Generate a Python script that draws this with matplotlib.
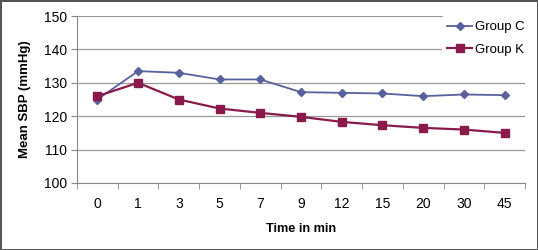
import numpy as np
import matplotlib.pyplot as plt

# time points (min) and mean SBP per group
times = ["0", "1", "3", "5", "7", "9", "12", "15", "20", "30", "45"]
group_c = [125.0, 133.5, 133.0, 131.0, 131.0, 127.2, 127.0, 126.8, 126.0, 126.5, 126.3]
group_k = [126.0, 130.0, 125.0, 122.3, 121.0, 119.8, 118.3, 117.3, 116.5, 116.0, 115.0]

plt.rcParams['font.family'] = ['Liberation Sans', 'DejaVu Sans']

fig = plt.figure(figsize=(5.38, 2.5), dpi=100)
fig.patch.set_edgecolor("#555555")
fig.patch.set_linewidth(2)
ax = fig.add_axes([0.143, 0.268, 0.833, 0.668])

x = np.arange(len(times))
ax.plot(x, group_c, color="#59609E", marker="D", markersize=4.5, linewidth=1.3, label="Group C")
ax.plot(x, group_k, color="#8B1A4C", marker="s", markersize=6, linewidth=1.6, label="Group K")

ax.set_xlim(-0.5, len(times) - 0.5)
ax.set_ylim(100, 150)
ax.set_yticks(range(100, 151, 10))
ax.set_xticks(x)
ax.set_xticklabels(times)
ax.set_xticks(np.arange(-0.5, len(times), 1), minor=True)
ax.tick_params(axis="x", which="major", length=0, pad=10, labelsize=10)
ax.tick_params(axis="x", which="minor", length=4, color="#888888")
ax.tick_params(axis="y", length=4, color="#888888", labelsize=10, pad=3)

ax.grid(axis="y", color="#999999", linewidth=0.9)
ax.set_axisbelow(True)
for s in ["top", "right"]:
    ax.spines[s].set_visible(False)
ax.spines["left"].set_color("#888888")
ax.spines["bottom"].set_color("#888888")

ax.set_ylabel("Mean SBP (mmHg)", fontweight="bold", fontsize=9.5, labelpad=9)
ax.set_xlabel("Time in min", fontweight="bold", fontsize=9.2, labelpad=9)

leg = ax.legend(loc="upper right", bbox_to_anchor=(1.025, 1.04), frameon=True,
                fontsize=9.5, handlelength=1.9, handletextpad=0.2,
                borderpad=0.4, labelspacing=0.75)
leg.get_frame().set_edgecolor("none")
leg.get_frame().set_facecolor("white")
leg.get_frame().set_alpha(1)

fig.savefig("out.png", dpi=100)
